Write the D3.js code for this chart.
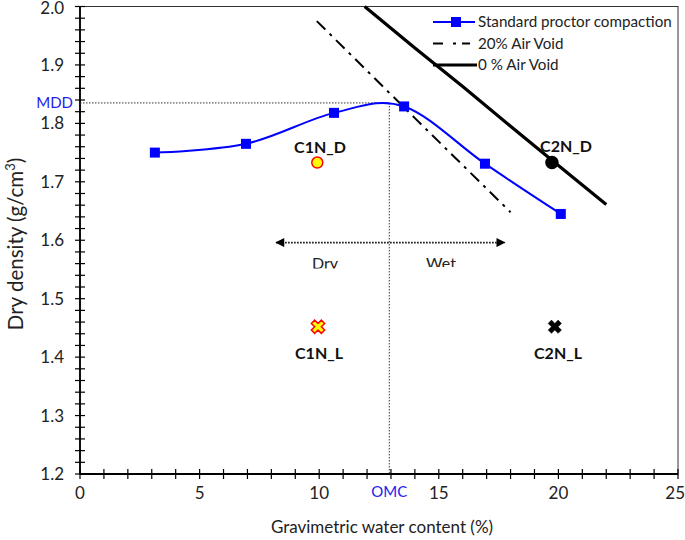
<!DOCTYPE html>
<html><head><meta charset="utf-8">
<script src="https://cdn.jsdelivr.net/npm/d3@7"></script>
<style>body{margin:0;background:#fff}svg{display:block}text{font-family:Lato,"Open Sans",sans-serif}</style>
</head><body>
<script>
// ---- data ----
const proctorW = [3.13, 6.94, 10.62, 13.55, 16.93, 20.1];
const proctorD = [1.750, 1.765, 1.818, 1.829, 1.731, 1.645];
const av20W = [9.9, 14.0, 18.0];
const av20D = [1.975, 1.809, 1.648];
const av0W = [11.9, 14.0, 16.0, 18.0, 20.0, 22.0];
const av0D = [2.0, 1.929, 1.863, 1.795, 1.728, 1.661];
const samples = [
  {name: "C1N_D", w: 9.92, d: 1.733, kind: "circle", fill: "#FFFF00", stroke: "#FF0000"},
  {name: "C2N_D", w: 19.73, d: 1.733, kind: "circle", fill: "#000000", stroke: "#000000"},
  {name: "C1N_L", w: 9.95, d: 1.452, kind: "x", fill: "#FFFF00", stroke: "#FF0000"},
  {name: "C2N_L", w: 19.85, d: 1.452, kind: "x", fill: "#000000", stroke: "#000000"}
];
const omc = 12.93, mdd = 1.835;
const dryWetFrom = 8.2, dryWetTo = 17.75, dryWetLevel = 1.596;
const xTicks = [0, 5, 10, 15, 20, 25];
const yTicks = [1.2, 1.3, 1.4, 1.5, 1.6, 1.7, 1.8, 1.9, 2.0];
const legendLabels = ["Standard proctor compaction", "20% Air Void", "0 % Air Void"];

const W = 685, H = 540;
const svg = d3.select("body").append("svg").attr("width", W).attr("height", H);
const x = d3.scaleLinear().domain([0, 25]).range([80, 678]);
const y = d3.scaleLinear().domain([1.2, 2.0]).range([474, 6.5]);

// plot border (top/right)
svg.append("rect").attr("x", x(0)).attr("y", y(2.0)).attr("width", x(25) - x(0)).attr("height", y(1.2) - y(2.0))
  .attr("fill", "none").attr("stroke", "#333").attr("stroke-width", 1);

// minor ticks (cross)
const minorX = d3.range(0, 25.001, 1);
const minorY = d3.range(1.2, 2.0001, 0.02);
svg.append("g").selectAll("line").data(minorX).join("line")
  .attr("x1", d => x(d)).attr("x2", d => x(d)).attr("y1", y(1.2) - 5).attr("y2", y(1.2) + 5)
  .attr("stroke", "#000").attr("stroke-width", 1.2);
svg.append("g").selectAll("line").data(minorY).join("line")
  .attr("y1", d => y(d)).attr("y2", d => y(d)).attr("x1", x(0) - 5).attr("x2", x(0) + 5)
  .attr("stroke", "#000").attr("stroke-width", 1.2);
// axis lines
svg.append("line").attr("x1", x(0)).attr("x2", x(25)).attr("y1", y(1.2)).attr("y2", y(1.2)).attr("stroke", "#000").attr("stroke-width", 1.8);
svg.append("line").attr("x1", x(0)).attr("x2", x(0)).attr("y1", y(1.2)).attr("y2", y(2.0)).attr("stroke", "#000").attr("stroke-width", 1.8);

// tick labels
svg.append("g").selectAll("text").data(xTicks).join("text")
  .attr("x", d => d === 25 ? 685 : x(d)).attr("y", 499).attr("text-anchor", d => d === 25 ? "end" : "middle")
  .attr("font-size", 17).attr("fill", "#222")
  .text(d => d);
svg.append("g").selectAll("text").data(yTicks).join("text")
  .attr("x", 64).attr("y", d => Math.max(y(d) + 6, 14)).attr("text-anchor", "end").attr("font-size", 17).attr("fill", "#222")
  .text(d => d.toFixed(1));

// axis titles
svg.append("text").attr("x", 382).attr("y", 533).attr("text-anchor", "middle").attr("font-size", 17).attr("fill", "#222")
  .text("Gravimetric water content (%)");
const yt = svg.append("text").attr("transform", "translate(23,244) rotate(-90)").attr("text-anchor", "middle")
  .attr("font-size", 20.5).attr("fill", "#222");
yt.append("tspan").text("Dry density (g/cm");
yt.append("tspan").attr("font-size", 13).attr("dy", -8).text("3");
yt.append("tspan").attr("dy", 8).text(")");

// MDD / OMC lines
svg.append("line").attr("x1", x(0)).attr("x2", x(omc)).attr("y1", y(mdd)).attr("y2", y(mdd))
  .attr("stroke", "#333").attr("stroke-width", 1).attr("stroke-dasharray", "1.5,1.5");
svg.append("line").attr("x1", x(omc)).attr("x2", x(omc)).attr("y1", y(mdd)).attr("y2", y(1.2))
  .attr("stroke", "#333").attr("stroke-width", 1).attr("stroke-dasharray", "1.5,1.5");
svg.append("text").attr("x", 73).attr("y", y(mdd) + 5.5).attr("text-anchor", "end").attr("font-size", 15).attr("fill", "#2222EE").text("MDD");
svg.append("text").attr("x", x(omc)).attr("y", 497).attr("text-anchor", "middle").attr("font-size", 15).attr("fill", "#2222EE").text("OMC");

// Dry / Wet arrow
const defs = svg.append("defs");
defs.append("marker").attr("id", "ah").attr("viewBox", "0 0 10 10").attr("refX", 9).attr("refY", 5)
  .attr("markerWidth", 11).attr("markerHeight", 9).attr("markerUnits", "userSpaceOnUse").attr("orient", "auto-start-reverse")
  .append("path").attr("d", "M0,0L10,5L0,10Z").attr("fill", "#000");
svg.append("line").attr("x1", x(dryWetFrom)).attr("x2", x(dryWetTo)).attr("y1", y(dryWetLevel)).attr("y2", y(dryWetLevel))
  .attr("stroke", "#000").attr("stroke-width", 1.8).attr("stroke-dasharray", "1.5,1.5")
  .attr("marker-start", "url(#ah)").attr("marker-end", "url(#ah)");
defs.append("clipPath").attr("id", "clipDry").append("rect").attr("x", 290).attr("y", 250).attr("width", 70).attr("height", 18.5);
defs.append("clipPath").attr("id", "clipWet").append("rect").attr("x", 400).attr("y", 250).attr("width", 80).attr("height", 17);
svg.append("text").attr("x", 325).attr("y", 268.5).attr("text-anchor", "middle").attr("font-size", 16).attr("fill", "#222")
  .attr("clip-path", "url(#clipDry)").text("Dry");
svg.append("text").attr("x", 441).attr("y", 268.5).attr("text-anchor", "middle").attr("font-size", 16).attr("fill", "#222")
  .attr("clip-path", "url(#clipWet)").text("Wet");

// air void lines
const line = d3.line().x(d => x(d[0])).y(d => y(d[1]));
svg.append("path").datum(av20W.map((w, i) => [w, av20D[i]])).attr("d", line)
  .attr("fill", "none").attr("stroke", "#000").attr("stroke-width", 2).attr("stroke-dasharray", "12,6,3,6");
svg.append("path").datum(av0W.map((w, i) => [w, av0D[i]])).attr("d", line)
  .attr("fill", "none").attr("stroke", "#000").attr("stroke-width", 3.2).attr("stroke-linejoin", "round");

// proctor curve
const proctor = proctorW.map((w, i) => [w, proctorD[i]]);
const smooth = d3.line().x(d => x(d[0])).y(d => y(d[1])).curve(d3.curveCardinal.tension(0));
svg.append("path").datum(proctor).attr("d", smooth).attr("fill", "none").attr("stroke", "#0000FF").attr("stroke-width", 2);
svg.append("g").selectAll("rect").data(proctor).join("rect")
  .attr("x", d => x(d[0]) - 5).attr("y", d => y(d[1]) - 5).attr("width", 10).attr("height", 10).attr("fill", "#0000FF");

// samples
const crossPath = d3.symbol().type(d3.symbolCross).size(110);
samples.forEach(s => {
  const cx = x(s.w), cy = y(s.d);
  if (s.kind === "circle") {
    svg.append("circle").attr("cx", cx).attr("cy", cy).attr("r", s.name === "C2N_D" ? 6 : 5.5)
      .attr("fill", s.fill).attr("stroke", s.stroke).attr("stroke-width", 1.5);
  } else {
    svg.append("path").attr("d", crossPath()).attr("transform", `translate(${cx},${cy}) rotate(45)`)
      .attr("fill", s.fill).attr("stroke", s.stroke).attr("stroke-width", s.fill === "#000000" ? 0.5 : 1.5);
  }
});
const labelPos = {C1N_D: [320, 153], C2N_D: [566, 152], C1N_L: [319, 359], C2N_L: [558, 359]};
svg.append("g").selectAll("text").data(samples).join("text")
  .attr("x", d => labelPos[d.name][0]).attr("y", d => labelPos[d.name][1])
  .attr("text-anchor", "middle").attr("font-size", 16).attr("font-weight", "bold").attr("fill", "#111")
  .text(d => d.name);

// legend
const lg = svg.append("g");
const ly = [22, 43.5, 65];
lg.append("line").attr("x1", 433).attr("x2", 475).attr("y1", ly[0]).attr("y2", ly[0]).attr("stroke", "#0000FF").attr("stroke-width", 2);
lg.append("rect").attr("x", 451).attr("y", ly[0] - 5).attr("width", 10).attr("height", 10).attr("fill", "#0000FF");
lg.append("line").attr("x1", 433).attr("x2", 470).attr("y1", ly[1]).attr("y2", ly[1]).attr("stroke", "#000").attr("stroke-width", 2.2).attr("stroke-dasharray", "10,10,3,6");
lg.append("line").attr("x1", 433).attr("x2", 477).attr("y1", ly[2]).attr("y2", ly[2]).attr("stroke", "#000").attr("stroke-width", 3);
lg.selectAll("text").data(legendLabels).join("text")
  .attr("x", 478).attr("y", (d, i) => ly[i] + 5).attr("font-size", 15.2).attr("fill", "#222")
  .text(d => d);
</script>
</body></html>
